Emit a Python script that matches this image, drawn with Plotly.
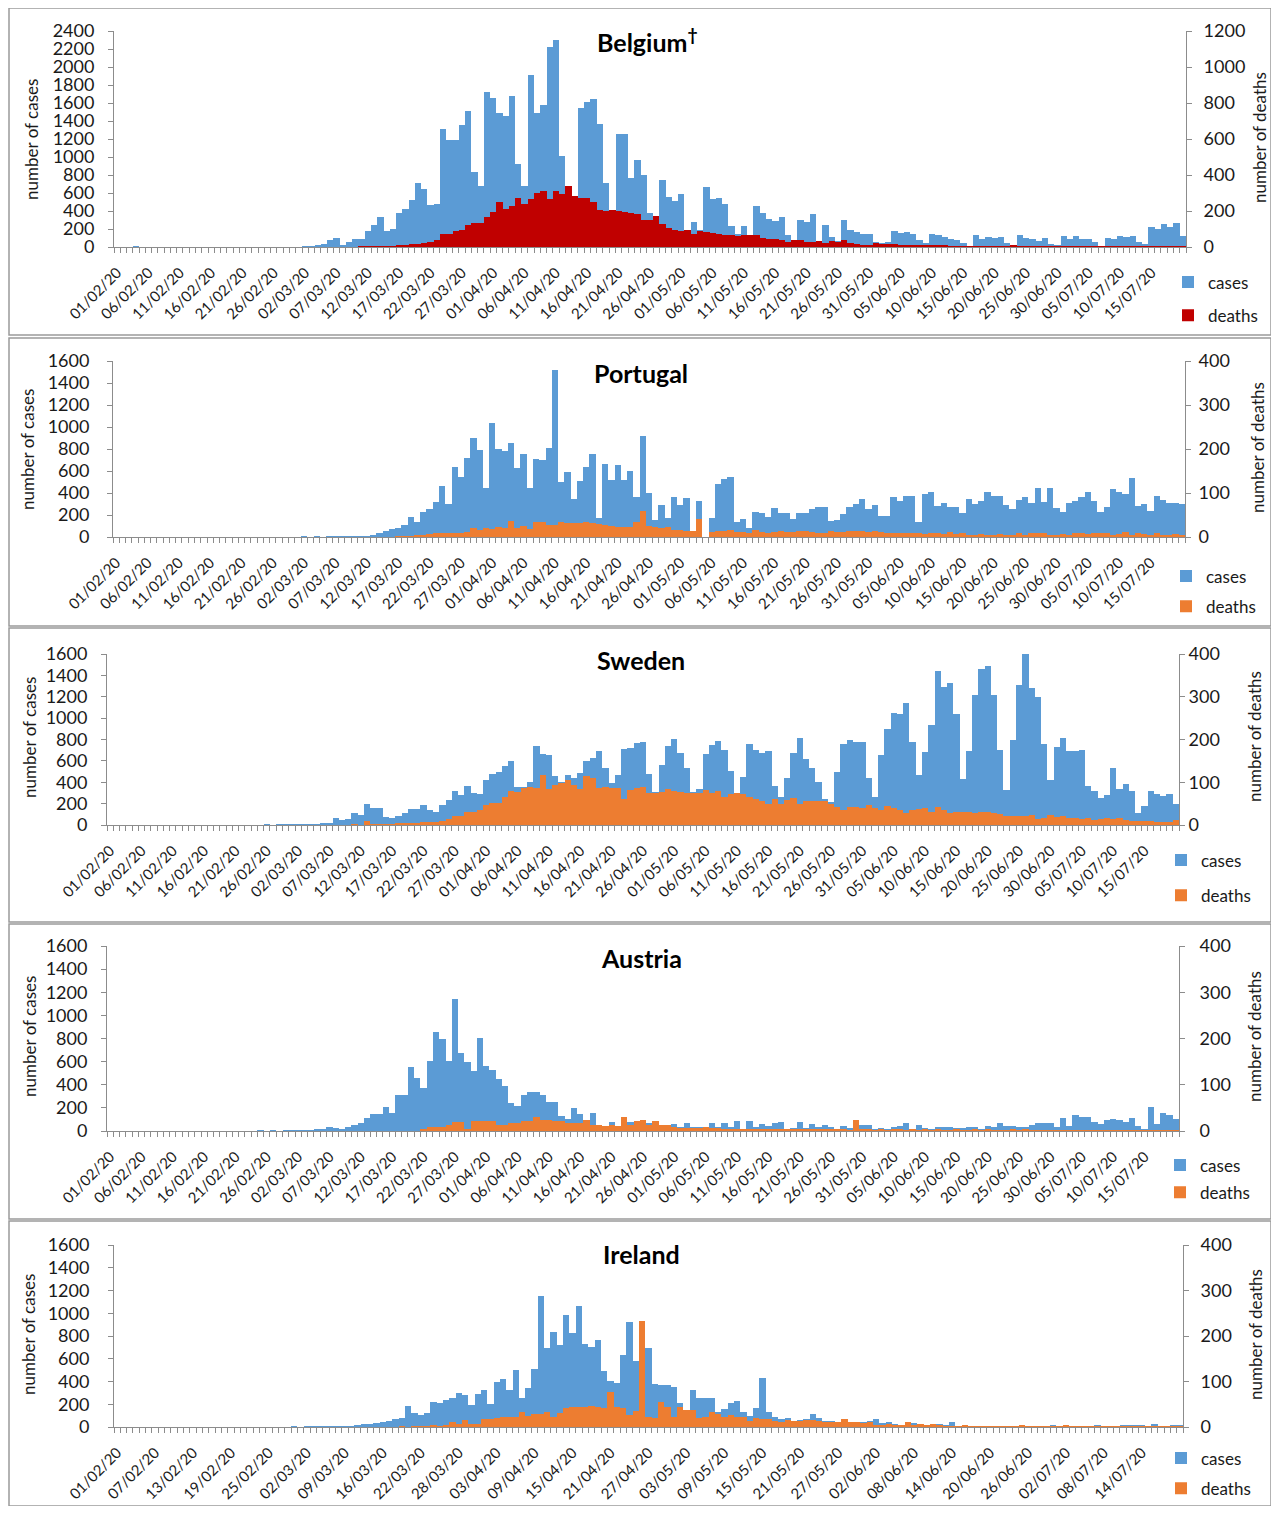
import pandas as pd
import plotly.graph_objects as go
from plotly.subplots import make_subplots

# ---------------- categories (daily dates) ----------------
dates = pd.date_range("2020-02-01", "2020-07-20", freq="D")
date_labels = [d.strftime("%d/%m/%y") for d in dates]
ireland_dropped = ["05/03/20", "12/03/20"]
ireland_labels = [d for d in date_labels if d not in ireland_dropped]

# ---------------- data ----------------
belgium_cases = [
    0, 0, 0, 1, 0, 0, 0, 0, 0, 0,
    0, 0, 0, 0, 0, 0, 0, 0, 0, 0,
    0, 0, 0, 0, 0, 0, 0, 0, 0, 0,
    2, 6, 13, 30, 74, 104, 18, 55, 92, 92,
    174, 240, 333, 174, 204, 381, 418, 518, 711, 648,
    470, 481, 1315, 1193, 1193, 1352, 1511, 833, 678, 1722,
    1659, 1489, 1452, 1674, 918, 678, 1907, 1489, 1574, 2222,
    2304, 1011, 620, 500, 1548, 1611, 1648, 1370, 711, 400,
    1252, 1252, 770, 963, 796, 378, 333, 741, 556, 511,
    585, 193, 278, 185, 667, 537, 544, 474, 233, 148,
    230, 110, 452, 381, 307, 289, 333, 137, 60, 304,
    278, 370, 60, 241, 111, 67, 304, 193, 170, 148,
    148, 56, 44, 56, 174, 156, 163, 148, 74, 44,
    148, 137, 111, 93, 74, 44, 7, 137, 93, 111,
    104, 111, 44, 7, 137, 104, 93, 67, 104, 30,
    19, 126, 93, 126, 93, 89, 56, 11, 104, 89,
    126, 111, 122, 56, 30, 219, 196, 252, 222, 267,
    118]
belgium_deaths = [
    0, 0, 0, 0, 0, 0, 0, 0, 0, 0,
    0, 0, 0, 0, 0, 0, 0, 0, 0, 0,
    0, 0, 0, 0, 0, 0, 0, 0, 0, 0,
    0, 0, 0, 0, 0, 0, 0, 0, 0, 1,
    1, 2, 3, 4, 5, 6, 9, 14, 18, 25,
    30, 38, 74, 74, 90, 95, 120, 133, 133, 167,
    194, 250, 209, 228, 272, 241, 269, 300, 311, 269,
    311, 293, 337, 281, 274, 274, 250, 207, 200, 207,
    200, 194, 191, 181, 152, 148, 170, 126, 107, 93,
    89, 93, 70, 89, 83, 78, 74, 65, 65, 59,
    65, 68, 65, 52, 46, 46, 37, 28, 37, 37,
    28, 28, 33, 22, 31, 28, 41, 22, 15, 9,
    7, 22, 15, 15, 15, 13, 13, 9, 9, 9,
    6, 9, 9, 5, 4, 4, 3, 4, 3, 4,
    3, 3, 2, 7, 4, 3, 3, 2, 3, 2,
    3, 2, 3, 2, 2, 3, 2, 2, 3, 2,
    2, 2, 1, 2, 2, 1, 2, 2, 1, 2,
    1]

portugal_cases = [
    0, 0, 0, 0, 0, 0, 0, 0, 0, 0,
    0, 0, 0, 0, 0, 0, 0, 0, 0, 0,
    0, 0, 0, 0, 0, 0, 0, 0, 0, 0,
    2, 0, 2, 0, 1, 3, 2, 5, 6, 7,
    9, 18, 39, 58, 73, 85, 109, 185, 139, 230,
    251, 321, 464, 300, 633, 548, 715, 903, 791, 442,
    1033, 800, 785, 851, 630, 751, 448, 706, 700, 812,
    1518, 503, 594, 345, 509, 639, 751, 170, 660, 518,
    654, 518, 603, 367, 918, 403, 155, 291, 170, 367,
    291, 351, 0, 327, 0, 176, 479, 524, 542, 139,
    164, 85, 230, 215, 185, 261, 221, 221, 164, 221,
    221, 251, 276, 270, 145, 155, 209, 276, 297, 345,
    251, 291, 191, 191, 367, 327, 376, 376, 133, 388,
    412, 285, 309, 270, 276, 221, 345, 297, 327, 412,
    376, 376, 288, 251, 336, 364, 306, 448, 321, 448,
    261, 224, 306, 327, 364, 412, 327, 224, 276, 439,
    412, 394, 533, 285, 297, 236, 373, 336, 309, 309,
    300]
portugal_deaths = [
    0, 0, 0, 0, 0, 0, 0, 0, 0, 0,
    0, 0, 0, 0, 0, 0, 0, 0, 0, 0,
    0, 0, 0, 0, 0, 0, 0, 0, 0, 0,
    0, 0, 0, 0, 0, 0, 0, 0, 0, 0,
    0, 0, 0, 0, 0, 1, 1, 2, 3, 5,
    6, 10, 8, 9, 10, 10, 12, 20, 17, 21,
    18, 23, 21, 37, 20, 26, 18, 33, 33, 27,
    27, 33, 31, 31, 31, 33, 31, 30, 27, 26,
    22, 23, 22, 33, 58, 25, 23, 20, 23, 16,
    16, 14, 14, 40, 0, 12, 14, 14, 16, 12,
    12, 9, 16, 11, 9, 12, 13, 12, 12, 13,
    14, 12, 10, 10, 13, 12, 12, 13, 13, 14,
    12, 13, 11, 10, 9, 10, 9, 8, 9, 6,
    9, 10, 6, 12, 6, 10, 5, 5, 6, 4,
    5, 6, 5, 4, 10, 4, 8, 9, 8, 5,
    3, 6, 4, 8, 10, 6, 9, 8, 9, 5,
    6, 12, 5, 8, 7, 5, 8, 5, 4, 6,
    5]

sweden_cases = [
    0, 0, 0, 0, 0, 0, 0, 0, 0, 0,
    0, 0, 0, 0, 0, 0, 0, 0, 0, 0,
    0, 0, 0, 0, 0, 1, 0, 1, 2, 3,
    4, 5, 6, 9, 16, 22, 62, 44, 53, 109,
    94, 196, 156, 156, 78, 62, 87, 115, 147, 147,
    187, 140, 125, 187, 234, 318, 281, 365, 296, 287,
    421, 474, 499, 555, 602, 352, 360, 400, 739, 664,
    655, 458, 405, 468, 443, 483, 602, 624, 692, 530,
    396, 468, 711, 724, 764, 780, 474, 312, 561, 742,
    802, 677, 536, 312, 340, 661, 749, 786, 702, 505,
    281, 452, 758, 702, 671, 692, 365, 265, 437, 671,
    811, 614, 536, 405, 240, 218, 499, 755, 795, 780,
    780, 437, 265, 655, 898, 1045, 1039, 1145, 780, 468,
    680, 936, 1441, 1295, 1332, 1036, 427, 692, 1216, 1457,
    1488, 1216, 702, 327, 795, 1310, 1606, 1285, 1201, 761,
    421, 733, 811, 692, 692, 702, 368, 318, 256, 281,
    536, 337, 380, 318, 109, 178, 318, 287, 271, 287,
    196]
sweden_deaths = [
    0, 0, 0, 0, 0, 0, 0, 0, 0, 0,
    0, 0, 0, 0, 0, 0, 0, 0, 0, 0,
    0, 0, 0, 0, 0, 0, 0, 0, 0, 0,
    0, 0, 0, 0, 0, 0, 0, 0, 0, 1,
    0, 10, 1, 1, 2, 2, 3, 3, 4, 5,
    8, 8, 8, 10, 15, 22, 22, 30, 30, 35,
    47, 51, 51, 65, 80, 78, 86, 90, 87, 117,
    84, 94, 98, 105, 94, 84, 115, 109, 87, 90,
    86, 87, 61, 82, 87, 90, 76, 76, 78, 84,
    80, 78, 76, 76, 76, 82, 74, 80, 66, 72,
    74, 72, 66, 60, 55, 49, 61, 49, 59, 62,
    48, 55, 57, 57, 55, 48, 41, 35, 41, 41,
    39, 47, 39, 34, 45, 39, 34, 27, 34, 37,
    39, 31, 41, 34, 27, 31, 30, 31, 29, 30,
    30, 27, 25, 20, 22, 21, 22, 23, 14, 16,
    23, 18, 20, 16, 17, 14, 16, 12, 14, 16,
    14, 16, 12, 10, 10, 10, 9, 8, 8, 6,
    12]

austria_cases = [
    0, 0, 0, 0, 0, 0, 0, 0, 0, 0,
    0, 0, 0, 0, 0, 0, 0, 0, 0, 0,
    0, 0, 0, 0, 2, 0, 1, 0, 3, 5,
    4, 8, 6, 12, 14, 35, 23, 14, 32, 52,
    66, 115, 144, 150, 205, 159, 311, 311, 551, 455,
    375, 605, 859, 793, 605, 1142, 672, 594, 522, 801,
    565, 528, 447, 392, 239, 219, 311, 340, 334, 311,
    248, 248, 130, 104, 196, 144, 86, 159, 52, 37,
    75, 46, 37, 81, 81, 58, 66, 86, 52, 52,
    58, 32, 72, 32, 37, 37, 72, 32, 72, 37,
    86, 15, 86, 37, 58, 43, 66, 75, 14, 23,
    75, 23, 58, 32, 49, 32, 17, 43, 23, 37,
    52, 52, 9, 23, 9, 32, 43, 66, 14, 49,
    23, 9, 32, 32, 32, 23, 23, 32, 32, 20,
    43, 32, 66, 43, 43, 32, 32, 49, 66, 66,
    66, 37, 110, 43, 138, 124, 124, 75, 58, 95,
    104, 95, 75, 110, 46, 9, 205, 58, 159, 138,
    104]
austria_deaths = [
    0, 0, 0, 0, 0, 0, 0, 0, 0, 0,
    0, 0, 0, 0, 0, 0, 0, 0, 0, 0,
    0, 0, 0, 0, 0, 0, 0, 0, 0, 0,
    0, 0, 0, 0, 0, 0, 0, 0, 0, 0,
    0, 0, 0, 0, 0, 0, 0, 0, 0, 0,
    4, 9, 9, 9, 12, 19, 19, 5, 22, 22,
    22, 22, 13, 13, 17, 17, 22, 22, 31, 24,
    24, 22, 22, 17, 18, 18, 24, 13, 13, 11,
    13, 11, 31, 13, 22, 24, 13, 22, 13, 13,
    9, 7, 7, 7, 6, 8, 6, 7, 4, 4,
    4, 4, 5, 3, 4, 3, 5, 4, 3, 4,
    3, 4, 3, 5, 4, 3, 4, 3, 2, 24,
    4, 3, 2, 3, 2, 3, 4, 2, 3, 2,
    3, 2, 3, 2, 2, 3, 2, 2, 3, 2,
    3, 2, 2, 2, 3, 2, 3, 2, 2, 2,
    2, 1, 2, 1, 2, 2, 1, 2, 1, 2,
    1, 2, 1, 2, 1, 2, 1, 1, 2, 1,
    1]

ireland_cases = [
    0, 0, 0, 0, 0, 0, 0, 0, 0, 0,
    0, 0, 0, 0, 0, 0, 0, 0, 0, 0,
    0, 0, 0, 0, 0, 0, 0, 0, 1, 0,
    1, 1, 4, 7, 3, 5, 2, 6, 10, 24,
    26, 38, 47, 56, 73, 82, 188, 120, 105, 120,
    217, 208, 237, 252, 296, 281, 193, 287, 325, 202,
    398, 419, 325, 501, 252, 346, 510, 1154, 697, 838,
    721, 984, 829, 1067, 727, 706, 765, 495, 404, 384,
    633, 926, 580, 450, 697, 378, 370, 369, 349, 208,
    10, 325, 252, 258, 258, 135, 155, 208, 231, 135,
    100, 164, 428, 129, 91, 67, 82, 56, 62, 70,
    111, 76, 56, 56, 38, 32, 38, 26, 47, 56,
    67, 32, 47, 26, 18, 18, 38, 18, 15, 15,
    26, 15, 47, 5, 18, 8, 5, 6, 5, 6,
    5, 4, 6, 5, 6, 8, 6, 5, 18, 6,
    5, 8, 6, 5, 7, 18, 6, 5, 8, 18,
    18, 18, 18, 6, 26, 5, 6, 22, 10]
ireland_deaths = [
    0, 0, 0, 0, 0, 0, 0, 0, 0, 0,
    0, 0, 0, 0, 0, 0, 0, 0, 0, 0,
    0, 0, 0, 0, 0, 0, 0, 0, 0, 0,
    0, 0, 0, 0, 0, 0, 0, 0, 0, 0,
    0, 0, 0, 0, 0, 1, 0, 1, 2, 1,
    3, 2, 3, 10, 6, 15, 7, 7, 17, 17,
    19, 23, 23, 21, 34, 25, 28, 28, 34, 23,
    30, 41, 43, 43, 45, 46, 45, 41, 76, 43,
    41, 26, 35, 232, 23, 19, 56, 43, 23, 43,
    37, 37, 19, 23, 34, 28, 23, 26, 23, 23,
    14, 19, 17, 17, 14, 12, 15, 14, 14, 15,
    15, 14, 12, 12, 12, 17, 10, 10, 8, 10,
    4, 4, 7, 4, 3, 10, 3, 7, 3, 7,
    3, 2, 2, 2, 4, 2, 2, 2, 2, 2,
    2, 2, 2, 4, 2, 2, 2, 2, 2, 2,
    4, 2, 2, 2, 2, 2, 2, 2, 2, 2,
    2, 2, 2, 2, 2, 2, 2, 2, 2]

countries = ["Belgium", "Portugal", "Sweden", "Austria", "Ireland"]
titles = ["Belgium<sup>†</sup>", "Portugal", "Sweden", "Austria", "Ireland"]
cases_series = [belgium_cases, portugal_cases, sweden_cases, austria_cases, ireland_cases]
deaths_series = [belgium_deaths, portugal_deaths, sweden_deaths, austria_deaths, ireland_deaths]
category_labels = [date_labels, date_labels, date_labels, date_labels, ireland_labels]
cases_max = [2400, 1600, 1600, 1600, 1600]
deaths_max = [1200, 400, 400, 400, 400]
deaths_step = [200, 100, 100, 100, 100]
label_step = [5, 5, 5, 5, 6]

# ---------------- styles / geometry (reference pixels) ----------------
CASES_COLOR = "#5B9BD5"
DEATH_COLORS = ["#C00000", "#ED7D31", "#ED7D31", "#ED7D31", "#ED7D31"]
AXIS_COLOR = "#8C8C8C"
FONT = "Lato, 'Open Sans', Arial, sans-serif"

geom = [
    dict(x0=114, x1=1186, yt=31, yb=247, box=(7, 335), ty=40, tx=648,
         lt=(32, 140), rt=(1259, 138), leg=(1188, 283, 316), lso=10, rso=8),
    dict(x0=113, x1=1185, yt=361, yb=537, box=(338, 626), ty=373, tx=641,
         lt=(27, 450), rt=(1258, 448), leg=(1186, 577, 607), lso=14, rso=4),
    dict(x0=107, x1=1179, yt=654, yb=825, box=(628, 922), ty=660, tx=641,
         lt=(29, 738), rt=(1254, 737), leg=(1181, 861, 896), lso=10, rso=0),
    dict(x0=107, x1=1179, yt=946, yb=1131, box=(924, 1219), ty=958, tx=641,
         lt=(29, 1037), rt=(1254, 1037), leg=(1180, 1166, 1193), lso=10, rso=11),
    dict(x0=114, x1=1183, yt=1245, yb=1427, box=(1221, 1512), ty=1254, tx=641,
         lt=(28, 1335), rt=(1255, 1335), leg=(1181, 1459, 1489), lso=15, rso=8),
]

OFF = 8            # browser body margin
W, H = 1263, 1498  # figure size


def px(p):
    return min(max((p - OFF) / W, 0), 1)


def py(p):
    return min(max(1 - (p - OFF) / H, 0), 1)


fig = make_subplots(rows=5, cols=1, specs=[[{"secondary_y": True}]] * 5)

annotations = []
shapes = []
LEG_ITEM_H = 25
LEG_TOP_TO_CENTER = 18.5

for k, name in enumerate(countries):
    r = k + 1
    g = geom[k]
    labels = category_labels[k]
    cases = cases_series[k]
    deaths = deaths_series[k]
    n = len(labels)
    xs = list(range(n))
    leg_name = "legend" if k == 0 else f"legend{k + 1}"

    fig.add_trace(go.Bar(x=xs, y=cases, name="cases", marker_color=CASES_COLOR,
                         marker_line_width=0, legend=leg_name, legendgroup=f"c{k}",
                         customdata=labels, hovertemplate="%{customdata}: %{y}<extra>cases</extra>"),
                  row=r, col=1, secondary_y=False)
    fig.add_trace(go.Bar(x=xs, y=deaths, name="deaths", marker_color=DEATH_COLORS[k],
                         marker_line_width=0, legend=leg_name, legendgroup=f"d{k}",
                         customdata=labels, hovertemplate="%{customdata}: %{y}<extra>deaths</extra>"),
                  row=r, col=1, secondary_y=True)

    step = label_step[k]
    tickvals = list(range(0, n - step, step))
    fig.update_xaxes(row=r, col=1, domain=[px(g["x0"]), px(g["x1"])], automargin=False,
                     range=[-0.5, n - 0.5], tickmode="array", tickvals=tickvals,
                     ticktext=[labels[i] for i in tickvals], tickangle=-45,
                     ticks="", showline=True, linecolor=AXIS_COLOR, linewidth=1,
                     showgrid=False, zeroline=False, ticklabelstandoff=10,
                     tickfont=dict(family=FONT, size=15, color="#1a1a1a"),
                     minor=dict(ticks="outside", ticklen=5, tickwidth=1, tickcolor=AXIS_COLOR,
                                tick0=-0.5, dtick=1, showgrid=False))
    ydom = [py(g["yb"]), py(g["yt"])]
    fig.update_yaxes(row=r, col=1, secondary_y=False, domain=ydom, automargin=False,
                     range=[0, cases_max[k]], dtick=200, tick0=0,
                     ticks="outside", ticklen=5, tickcolor=AXIS_COLOR, showline=True,
                     linecolor=AXIS_COLOR, showgrid=False, zeroline=False,
                     ticklabelstandoff=g["lso"],
                     tickfont=dict(family=FONT, size=18, color="#1a1a1a"))
    fig.update_yaxes(row=r, col=1, secondary_y=True, domain=ydom, automargin=False,
                     range=[0, deaths_max[k]], dtick=deaths_step[k], tick0=0,
                     ticks="outside", ticklen=5, tickcolor=AXIS_COLOR, showline=True,
                     linecolor=AXIS_COLOR, showgrid=False, zeroline=False,
                     ticklabelstandoff=g["rso"],
                     tickfont=dict(family=FONT, size=18, color="#1a1a1a"))

    # panel title
    annotations.append(dict(text=f"<b>{titles[k]}</b>", x=px(g["tx"]), y=py(g["ty"]),
                            xref="paper", yref="paper", showarrow=False,
                            xanchor="center", yanchor="middle",
                            font=dict(family=FONT, size=25, color="#000000")))
    # axis titles
    annotations.append(dict(text="number of cases", x=px(g["lt"][0]), y=py(g["lt"][1]),
                            xref="paper", yref="paper", showarrow=False, textangle=-90,
                            xanchor="center", yanchor="middle",
                            font=dict(family=FONT, size=17, color="#1a1a1a")))
    annotations.append(dict(text="number of deaths", x=px(g["rt"][0]), y=py(g["rt"][1]),
                            xref="paper", yref="paper", showarrow=False, textangle=-90,
                            xanchor="center", yanchor="middle",
                            font=dict(family=FONT, size=17, color="#1a1a1a")))
    # panel border
    shapes.append(dict(type="rect", xref="paper", yref="paper",
                       x0=px(9), x1=px(1277), y0=py(g["box"][1]), y1=py(g["box"][0]),
                       line=dict(color="#9A9A9A", width=1.5), fillcolor="rgba(0,0,0,0)",
                       layer="below"))
    # legend
    sq_x, c1, c2 = g["leg"]
    fig.update_layout({leg_name: dict(
        x=px(sq_x - 20), y=py(c1 - LEG_TOP_TO_CENTER), xanchor="left", yanchor="top",
        xref="paper", yref="paper", bgcolor="rgba(0,0,0,0)", borderwidth=0,
        traceorder="grouped", tracegroupgap=max(0, (c2 - c1) - LEG_ITEM_H),
        font=dict(family=FONT, size=17, color="#1a1a1a"), itemwidth=30)})

fig.update_layout(width=W, height=H, margin=dict(l=0, r=0, t=0, b=0, autoexpand=False),
                  paper_bgcolor="white", plot_bgcolor="white",
                  barmode="overlay", bargap=0, showlegend=True,
                  annotations=annotations, shapes=shapes,
                  font=dict(family=FONT))

fig.write_html("out.html")
